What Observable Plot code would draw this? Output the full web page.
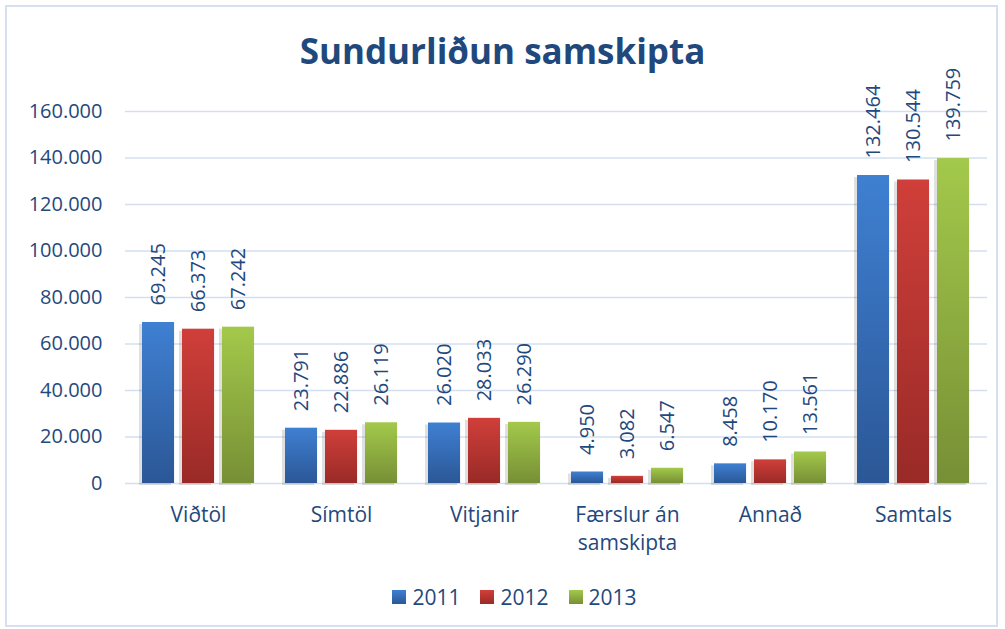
<!DOCTYPE html>
<html>
<head>
<meta charset="utf-8">
<script src="https://cdn.jsdelivr.net/npm/d3@7"></script>
<script src="https://cdn.jsdelivr.net/npm/@observablehq/plot@0.6"></script>
<style>
  html, body { margin: 0; padding: 0; background: #fff; }
  #frame { position: relative; width: 1005px; height: 629px; overflow: hidden; font-family: "Open Sans", sans-serif; color: #1f497d; }
  #border { position: absolute; left: 5px; top: 5px; width: 989px; height: 618px; border: 2px solid #d6e0f0; box-sizing: content-box; }
  #title { position: absolute; left: 0; width: 1005px; top: 27px; text-align: center; font-weight: bold; font-size: 35px; line-height: 48px; color: #1f497d; }
  #chart { position: absolute; left: 0; top: 0; }
  #legend { position: absolute; left: 12px; width: 1005px; top: 582px; display: flex; justify-content: center; gap: 20px; font-size: 21px; line-height: 30px; }
  .item { display: flex; align-items: center; gap: 6px; }
  .sw { width: 14px; height: 14px; display: inline-block; }
</style>
</head>
<body>
<svg width="0" height="0" style="position:absolute">
  <defs id="defs"></defs>
</svg>
<div id="frame">
  <div id="border"></div>
  <div id="title">Sundurliðun samskipta</div>
  <div id="chart"></div>
  <div id="legend"></div>
</div>
<script>
const categories = ["Viðtöl", "Símtöl", "Vitjanir", "Færslur án samskipta", "Annað", "Samtals"];
const categoryLabels = ["Viðtöl", "Símtöl", "Vitjanir", "Færslur án\nsamskipta", "Annað", "Samtals"];
const years = ["2011", "2012", "2013"];
const values2011 = [69245, 23791, 26020, 4950, 8458, 132464];
const values2012 = [66373, 22886, 28033, 3082, 10170, 130544];
const values2013 = [67242, 26119, 26290, 6547, 13561, 139759];
const yTicks = [0, 20000, 40000, 60000, 80000, 100000, 120000, 140000, 160000];

const gradTop = {"2011": "#3f80d2", "2012": "#d03f3a", "2013": "#a3c94b"};
const gradBottom = {"2011": "#2b5796", "2012": "#992a27", "2013": "#778f35"};

const defs = document.getElementById("defs");
for (const y of years) {
  defs.insertAdjacentHTML("beforeend",
    `<linearGradient id="g${y}" x1="0" y1="0" x2="0" y2="1">
       <stop offset="0" stop-color="${gradTop[y]}"/>
       <stop offset="1" stop-color="${gradBottom[y]}"/>
     </linearGradient>`);
}

const seriesValues = [values2011, values2012, values2013];
const rows = [];
years.forEach((yr, i) => categories.forEach((c, j) => rows.push({category: c, year: yr, value: seriesValues[i][j]})));

const fmt = d3.formatLocale({decimal: ",", thousands: ".", grouping: [3], currency: ["", ""]}).format(",.0f");

const W = 1005, H = 560, ML = 125, MR = 18, MT = 111, MB = 77;
const step = (W - ML - MR) / categories.length;
const bw = step * 0.8;
const barW = 33, barStep = 40;
const labelMap = new Map(categories.map((c, i) => [c, categoryLabels[i]]));

const marks = [
  Plot.ruleY(yTicks, {stroke: "#d3dff0", strokeWidth: 1.6}),
  Plot.text(yTicks, {y: d => d, text: d => fmt(d), frameAnchor: "left", textAnchor: "end", dx: -23, fontSize: 20, fill: "#1f497d"}),
  Plot.text(categories, {x: d => d, text: d => labelMap.get(d), frameAnchor: "bottom", lineAnchor: "top", dy: 19, fontSize: 21, lineHeight: 1.33, fill: "#1f497d"})
];
years.forEach((yr, i) => {
  const data = rows.filter(r => r.year === yr);
  const insetLeft = 1 + i * barStep;
  const insetRight = bw - insetLeft - barW;
  marks.push(Plot.barY(data, {x: "category", y: "value", fill: "#000", fillOpacity: 0.12, insetLeft, insetRight, dx: -3, dy: 2}));
  marks.push(Plot.barY(data, {x: "category", y: "value", fill: `url(#g${yr})`, insetLeft, insetRight}));
  marks.push(Plot.text(data, {x: "category", y: "value", text: d => fmt(d.value), rotate: -90, textAnchor: "start", lineAnchor: "middle", dx: (i - 1) * barStep, dy: -17, fontSize: 20, fill: "#1f497d"}));
});

const chart = Plot.plot({
  width: W, height: H,
  marginLeft: ML, marginRight: MR, marginTop: MT, marginBottom: MB,
  style: {fontFamily: "Open Sans", background: "transparent", color: "#1f497d"},
  x: {domain: categories, paddingInner: 0.2, paddingOuter: 0.1, axis: null},
  y: {domain: [0, 160000], axis: null},
  marks
});
document.getElementById("chart").appendChild(chart);

const legend = document.getElementById("legend");
years.forEach(yr => {
  legend.insertAdjacentHTML("beforeend",
    `<span class="item"><span class="sw" style="background: linear-gradient(${gradTop[yr]}, ${gradBottom[yr]})"></span><span>${yr}</span></span>`);
});
</script>
</body>
</html>
